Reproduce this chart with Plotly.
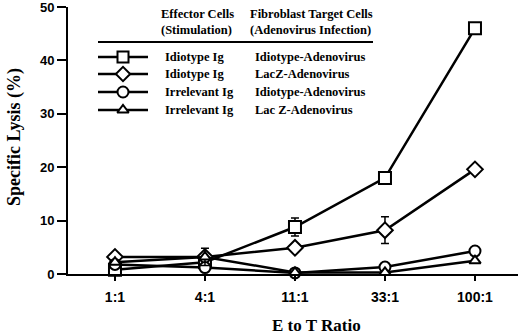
import plotly.graph_objects as go

categories = ["1:1", "4:1", "11:1", "33:1", "100:1"]
idiotype_idio = [0.8, 2.2, 8.8, 18.0, 46.0]
idiotype_idio_err = [0, 0, 1.7, 0, 0]
idiotype_lacz = [3.2, 3.2, 4.9, 8.2, 19.6]
idiotype_lacz_err = [0, 0, 0, 2.5, 0]
irrelevant_idio = [1.8, 1.2, 0.2, 1.3, 4.3]
irrelevant_lacz = [2.2, 3.2, 0.3, 0.3, 2.5]
irrelevant_lacz_err = [0, 1.6, 0, 0, 0]

y_ticks = [0, 10, 20, 30, 40, 50]

legend_rows = [
    ("square", "Idiotype Ig", "Idiotype-Adenovirus"),
    ("diamond", "Idiotype Ig", "LacZ-Adenovirus"),
    ("circle", "Irrelevant Ig", "Idiotype-Adenovirus"),
    ("triangle-up", "Irrelevant Ig", "Lac Z-Adenovirus"),
]

x = list(range(len(categories)))
fig = go.Figure()

series = [
    (idiotype_idio, idiotype_idio_err, "square", 12),
    (idiotype_lacz, idiotype_lacz_err, "diamond", 12),
    (irrelevant_idio, None, "circle", 11),
    (irrelevant_lacz, irrelevant_lacz_err, "triangle-up", 10),
]
for vals, err, sym, sz in series:
    kw = {}
    if err is not None:
        kw["error_y"] = dict(type="data", array=err, visible=True, color="black",
                             thickness=1.5, width=4)
    fig.add_trace(go.Scatter(
        x=x, y=vals, mode="lines+markers",
        line=dict(color="black", width=2.5),
        marker=dict(symbol=sym, size=sz, color="white",
                    line=dict(color="black", width=2)),
        cliponaxis=False, showlegend=False, **kw))

# Legend drawn manually in pixel-like overlay axes
font_serif = "Liberation Serif"
row_y = [57, 74, 92, 110]
for (sym, eff, tgt), yy in zip(legend_rows, row_y):
    fig.add_trace(go.Scatter(
        x=[98, 123, 148], y=[yy, yy, yy], mode="lines",
        line=dict(color="black", width=2.5),
        xaxis="x2", yaxis="y2", showlegend=False, cliponaxis=False))
    fig.add_trace(go.Scatter(
        x=[123], y=[yy], mode="markers",
        marker=dict(symbol=sym, size=11 if sym != "triangle-up" else 10,
                    color="white", line=dict(color="black", width=2)),
        xaxis="x2", yaxis="y2", showlegend=False, cliponaxis=False))
    fig.add_annotation(x=163, y=yy, xref="x2", yref="y2", text="<b>%s</b>" % eff,
                       showarrow=False, xanchor="left", yanchor="middle",
                       font=dict(family=font_serif, size=12.5, color="black"))
    fig.add_annotation(x=253, y=yy, xref="x2", yref="y2", text="<b>%s</b>" % tgt,
                       showarrow=False, xanchor="left", yanchor="middle",
                       font=dict(family=font_serif, size=12.5, color="black"))

headers = [(159, 14, "<b>Effector Cells</b>"), (159, 30, "<b>(Stimulation)</b>"),
           (248, 14, "<b>Fibroblast Target Cells</b>"), (248, 30, "<b>(Adenovirus Infection)</b>")]
for hx, hy, ht in headers:
    fig.add_annotation(x=hx, y=hy, xref="x2", yref="y2", text=ht,
                       showarrow=False, xanchor="left", yanchor="middle",
                       font=dict(family=font_serif, size=12.5, color="black"))
fig.add_shape(type="line", x0=98, x1=373, y0=42, y1=42, xref="x2", yref="y2",
              line=dict(color="black", width=2))

# Axis titles (paper coordinates relative to the plot area)
fig.add_annotation(x=(316 - 68) / 450, y=(274 - 325) / 267, xref="paper", yref="paper",
                   text="<b>E to T Ratio</b>",
                   showarrow=False, xanchor="center", yanchor="middle",
                   font=dict(family=font_serif, size=17, color="black"))
fig.add_annotation(x=(14 - 68) / 450, y=(274 - 137) / 267, xref="paper", yref="paper",
                   text="<b>Specific Lysis (%)</b>",
                   showarrow=False, xanchor="center", yanchor="middle", textangle=-90,
                   font=dict(family=font_serif, size=18, color="black"))

fig.update_layout(
    width=520, height=335,
    margin=dict(l=68, r=2, t=7, b=61),
    plot_bgcolor="white", paper_bgcolor="white",
    hovermode=False,
    xaxis=dict(range=[-0.522, 4.478], tickmode="array", tickvals=x,
               ticktext=["<b>%s</b>" % c for c in categories],
               showline=True, linecolor="black", linewidth=2,
               ticks="outside", ticklen=5, tickwidth=1.5, tickcolor="black",
               showgrid=False, zeroline=False, automargin=False,
               ticklabelstandoff=4,
               tickfont=dict(family="Liberation Sans", size=14, color="black")),
    yaxis=dict(range=[0, 50], tickvals=y_ticks,
               ticktext=["<b>%d</b>" % t for t in y_ticks],
               showline=True, linecolor="black", linewidth=2,
               ticks="outside", ticklen=9, tickwidth=1.5, tickcolor="black",
               showgrid=False, zeroline=False, automargin=False,
               ticklabeloverflow="allow",
               tickfont=dict(family="Liberation Sans", size=13, color="black")),
    xaxis2=dict(range=[68, 518], overlaying="x", visible=False, domain=[0, 1]),
    yaxis2=dict(range=[274, 7], overlaying="y", visible=False, domain=[0, 1]),
)

fig.write_html("out.html", config={"displayModeBar": False},
               post_script="document.body.style.margin='0';document.body.style.padding='0';")
